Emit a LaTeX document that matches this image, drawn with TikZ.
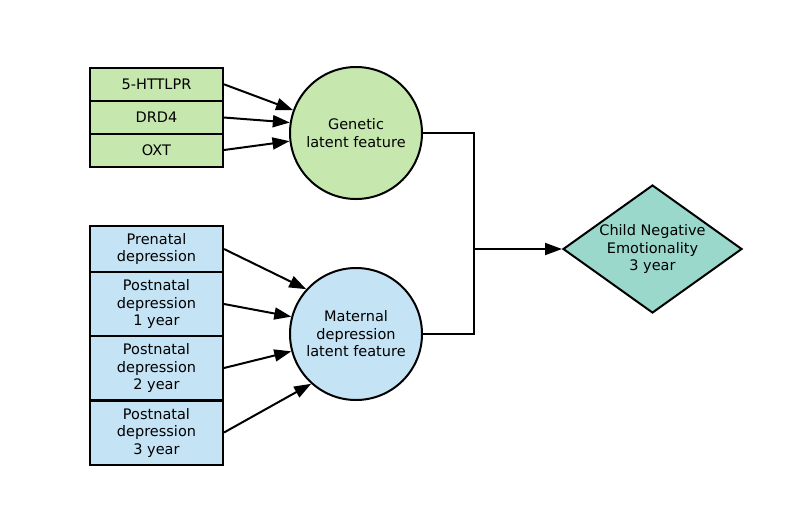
\documentclass[tikz,border=0pt]{standalone}
\usepackage{fontspec}
\setmainfont{DejaVu Sans}
\usetikzlibrary{shapes.geometric,arrows.meta}
\definecolor{gfill}{RGB}{198,232,174}
\definecolor{bfill}{RGB}{196,228,246}
\definecolor{tfill}{RGB}{154,216,204}
\tikzset{
  every node/.style={font=\fontsize{14.5}{17.5}\selectfont, align=center, inner sep=0pt},
  gbox/.style={draw, line width=2pt, fill=gfill, minimum width=133pt},
  bbox/.style={draw, line width=2pt, fill=bfill, minimum width=133pt},
  latent/.style={draw, line width=2pt, circle, minimum size=132pt},
  outcome/.style={draw, line width=2pt, diamond, fill=tfill, minimum width=179pt, minimum height=128pt},
  arr/.style={line width=2pt, -{Triangle[length=17pt,width=12pt]}},
  wire/.style={line width=2pt}
}
\begin{document}
\begin{tikzpicture}[x=1pt,y=-1pt]
\useasboundingbox (0,0) rectangle (791,531);
% genetic boxes
\node[gbox, minimum height=33.5pt] (g1) at (156.5,84.3) {5-HTTLPR};
\node[gbox, minimum height=33pt] (g2) at (156.5,117.5) {DRD4};
\node[gbox, minimum height=33pt] (g3) at (156.5,150) {OXT};
% maternal boxes
\node[bbox, minimum height=46pt] (b1) at (156.5,249) {Prenatal\\depression};
\node[bbox, minimum height=64pt] (b2) at (156.5,304) {Postnatal\\depression\\1 year};
\node[bbox, minimum height=64pt] (b3) at (156.5,368) {Postnatal\\depression\\2 year};
\node[bbox, minimum height=64pt] (b4) at (156.5,432.5) {Postnatal\\depression\\3 year};
% latent
\node[latent, fill=gfill] (gen) at (356,133) {Genetic\\latent feature};
\node[latent, fill=bfill] (mat) at (356,334) {Maternal\\depression\\latent feature};
% outcome
\node[outcome, label={[align=center]center:Child Negative\\Emotionality\\3 year}] (child) at (652.5,249) {};
% arrows
\draw[arr] (g1.east) -- (gen.160);
\draw[arr] (g2.east) -- (gen.171);
\draw[arr] (g3.east) -- (gen.187);
\draw[arr] (b1.east) -- (mat.138);
\draw[arr] (b2.east) -- (mat.165);
\draw[arr] (b3.east) -- (mat.195);
\draw[arr] (b4.east) -- (mat.228);
\coordinate (j) at (474,249);
\draw[wire] (gen.east) -| (j) |- (mat.east);
\draw[arr] (j) -- (child.west);
\end{tikzpicture}
\end{document}
